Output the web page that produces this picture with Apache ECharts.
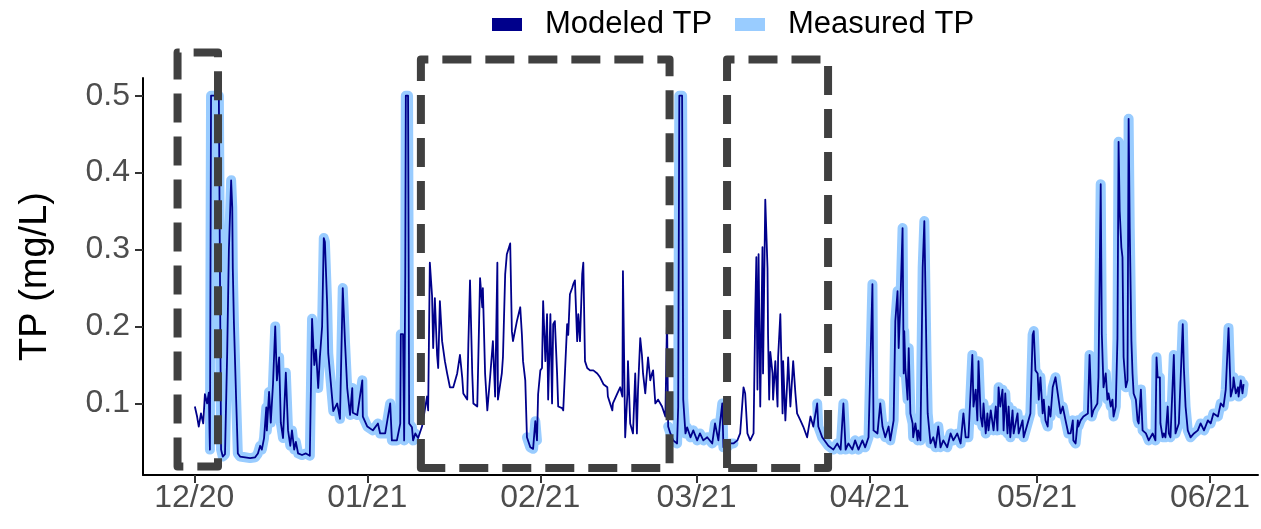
<!DOCTYPE html>
<html>
<head>
<meta charset="utf-8">
<script src="https://cdn.jsdelivr.net/npm/echarts@6/dist/echarts.min.js"></script>
<style>
  html, body { margin: 0; padding: 0; background: #fff; }
  #chart { width: 1261px; height: 529px; }
</style>
</head>
<body>
<div id="chart"></div>
<script>
// x positions are days counted from 1 Dec 2020
const tickDays = [0, 31, 62, 90, 121, 151, 182];
const tickLabels = ['12/20', '01/21', '02/21', '03/21', '04/21', '05/21', '06/21'];
const yTicks = [0.1, 0.2, 0.3, 0.4, 0.5];

// Modeled total phosphorus, [day, mg/L]
const modeledDec = [[0.1,0.096],[0.5,0.083],[0.8,0.07],[1.2,0.087],[1.6,0.074],[1.9,0.112],[2.3,0.1],[2.6,0.114],[2.8,0.04],[3.0,0.5],[4.4,0.5],[4.8,0.04],[5.1,0.031],[5.5,0.034],[5.9,0.168],[6.2,0.3],[6.6,0.39],[6.8,0.355],[6.9,0.275],[7.1,0.205],[7.5,0.105],[7.8,0.035],[8.2,0.031],[9.1,0.03],[10.0,0.029],[10.9,0.03],[11.4,0.035],[11.8,0.045],[12.1,0.04],[12.5,0.055],[12.9,0.095],[13.0,0.065],[13.4,0.115],[13.7,0.075],[14.1,0.125],[14.5,0.2],[14.8,0.13],[15.2,0.16],[15.5,0.075],[15.9,0.055],[16.4,0.14],[16.8,0.065],[17.2,0.045],[17.5,0.065],[17.9,0.04],[18.2,0.05],[18.6,0.035],[19.3,0.033],[20.0,0.035],[20.7,0.032],[21.1,0.21],[21.5,0.15],[21.8,0.17],[22.2,0.12],[22.5,0.16],[22.9,0.2],[23.2,0.315],[23.4,0.31],[23.8,0.23],[24.0,0.165],[24.3,0.14],[24.9,0.09],[25.6,0.1],[26.1,0.08],[26.6,0.25],[27.0,0.18],[27.4,0.12],[27.9,0.085],[28.3,0.12],[28.4,0.088],[29.2,0.085],[30.1,0.13],[30.2,0.083],[31.0,0.07]];
const modeledJan = [[32.0,0.065],[32.9,0.074],[33.3,0.061],[34.2,0.061],[35.1,0.1],[35.4,0.052],[36.3,0.052],[36.9,0.074],[37.0,0.19],[37.4,0.19],[37.6,0.052],[37.8,0.27],[37.9,0.5],[38.3,0.5],[38.5,0.074],[39.0,0.069],[39.2,0.052],[39.6,0.061],[40.1,0.055],[40.8,0.07],[41.7,0.109],[41.9,0.091],[42.2,0.283],[42.6,0.24],[42.8,0.172],[43.1,0.237],[43.5,0.163],[43.7,0.146],[44.0,0.233],[44.4,0.181],[44.6,0.181],[44.9,0.155],[45.3,0.139],[45.8,0.121],[46.4,0.121],[47.1,0.139],[47.6,0.163],[48.0,0.134],[48.2,0.113],[48.9,0.105],[49.1,0.176],[49.4,0.26],[49.8,0.139],[50.0,0.1],[50.7,0.096],[51.2,0.263],[51.6,0.225],[51.7,0.25],[52.1,0.139],[52.5,0.091],[53.0,0.134],[53.5,0.181],[53.9,0.109],[54.3,0.283],[54.4,0.105],[55.1,0.139],[55.3,0.16],[55.7,0.268],[56.0,0.294],[56.6,0.308],[56.9,0.194],[57.1,0.181],[57.8,0.207],[58.4,0.225],[58.7,0.189],[58.9,0.155],[59.3,0.13],[59.6,0.056],[60.2,0.043],[60.7,0.041],[61.1,0.077],[61.4,0.052],[61.6,0.112],[62.0,0.143]];
const modeledFeb = [[62.3,0.146],[62.5,0.233],[62.9,0.155],[63.2,0.216],[63.4,0.105],[63.8,0.216],[64.1,0.1],[64.3,0.203],[64.6,0.207],[65.0,0.139],[65.2,0.096],[65.9,0.094],[66.1,0.091],[66.8,0.203],[67.0,0.189],[67.3,0.242],[67.7,0.25],[67.9,0.255],[68.2,0.26],[68.6,0.181],[68.8,0.216],[69.1,0.181],[69.5,0.268],[69.7,0.283],[70.0,0.155],[70.4,0.146],[70.9,0.143],[71.5,0.143],[72.2,0.139],[72.7,0.134],[73.3,0.125],[74.0,0.121],[74.1,0.109],[74.9,0.091],[75.0,0.1],[75.8,0.113],[76.3,0.121],[76.7,0.109],[76.8,0.272],[77.2,0.056],[77.6,0.113],[77.7,0.155],[78.1,0.074],[78.6,0.061],[79.0,0.139],[79.3,0.061],[79.5,0.118],[79.9,0.185],[80.2,0.163],[80.4,0.139],[80.8,0.113],[81.3,0.16],[81.7,0.13],[82.0,0.139],[82.2,0.143],[82.6,0.1],[83.1,0.105],[83.8,0.096],[84.4,0.083],[84.7,0.212],[84.9,0.07],[85.3,0.061],[85.8,0.052],[86.5,0.048],[86.7,0.096],[86.9,0.5],[87.4,0.5],[87.6,0.105],[88.0,0.061],[88.3,0.069],[88.9,0.056],[89.4,0.065],[90.1,0.052]];
const modeledMar = [[90.6,0.061],[91.2,0.052],[91.9,0.056],[92.8,0.048],[93.3,0.074],[93.9,0.052],[94.2,0.075],[94.6,0.1],[94.8,0.043],[95.5,0.043],[96.0,0.048],[96.6,0.048],[97.3,0.052],[97.8,0.061],[98.4,0.121],[98.7,0.113],[99.1,0.061],[99.6,0.052],[100.2,0.061],[100.5,0.216],[100.7,0.29],[100.9,0.118],[101.1,0.294],[101.4,0.096],[101.8,0.303],[101.9,0.139],[102.3,0.365],[102.7,0.276],[102.8,0.189],[103.0,0.105],[103.2,0.167],[103.6,0.139],[103.7,0.105],[104.1,0.155],[104.5,0.096],[104.6,0.16],[105.0,0.216],[105.4,0.087],[105.5,0.155],[105.9,0.078],[106.3,0.139],[106.4,0.16],[106.8,0.096],[107.3,0.155],[107.7,0.113],[108.0,0.087],[108.6,0.078],[109.1,0.07],[109.8,0.056],[110.4,0.083],[110.9,0.07],[111.6,0.1],[111.8,0.07],[112.5,0.056],[113.6,0.045],[114.5,0.04],[115.2,0.048],[115.8,0.04],[116.3,0.1],[116.7,0.04],[117.2,0.048],[117.9,0.04],[118.4,0.052],[119.0,0.04],[119.7,0.052],[120.2,0.043],[120.8,0.056]];
const modeledApr = [[121.5,0.255],[121.7,0.065],[122.4,0.061],[122.9,0.1],[123.3,0.07],[123.8,0.056],[124.4,0.07],[124.7,0.052],[125.3,0.078],[125.6,0.207],[126.0,0.246],[126.2,0.172],[126.5,0.229],[126.9,0.328],[127.1,0.139],[127.2,0.194],[127.4,0.146],[127.8,0.105],[128.0,0.172],[128.3,0.087],[128.7,0.074],[128.8,0.056],[129.2,0.074],[129.6,0.052],[129.7,0.065],[130.1,0.052],[130.5,0.276],[130.8,0.337],[131.2,0.155],[131.4,0.087],[131.9,0.048],[132.4,0.056],[132.8,0.043],[133.3,0.07],[133.7,0.043],[134.2,0.052],[134.9,0.043],[135.5,0.061],[136.0,0.052],[136.7,0.061],[137.3,0.048],[137.8,0.087],[138.2,0.056],[138.7,0.056],[139.4,0.163],[139.6,0.096],[140.0,0.118],[140.3,0.078],[140.5,0.155],[140.9,0.083],[141.2,0.07],[141.4,0.1],[141.8,0.061],[142.1,0.087],[142.3,0.065],[142.7,0.091],[143.2,0.065],[143.6,0.096],[143.9,0.065],[144.1,0.121],[144.4,0.096],[144.8,0.118],[145.0,0.065],[145.3,0.113],[145.7,0.061],[145.9,0.096],[146.2,0.056],[146.6,0.091],[146.8,0.061],[147.5,0.087],[147.7,0.061],[148.4,0.078],[148.6,0.056],[149.3,0.074],[149.8,0.087],[150.2,0.189],[150.4,0.194],[150.7,0.143]];
const modeledMay = [[151.1,0.139],[151.3,0.105],[151.6,0.134],[152.0,0.087],[152.2,0.105],[152.5,0.078],[152.9,0.07],[153.1,0.096],[153.4,0.083],[153.8,0.121],[154.3,0.134],[154.7,0.113],[155.2,0.087],[155.6,0.096],[156.1,0.078],[156.6,0.061],[157.0,0.061],[157.4,0.078],[157.5,0.052],[157.9,0.048],[158.3,0.078],[158.4,0.07],[158.8,0.078],[159.3,0.083],[160.1,0.087],[160.4,0.163],[160.8,0.083],[161.1,0.091],[161.8,0.1],[162.0,0.134],[162.4,0.385],[162.6,0.19],[162.9,0.121],[163.3,0.139],[163.6,0.105],[163.8,0.113],[164.2,0.096],[164.5,0.105],[164.7,0.083],[165.1,0.096],[165.4,0.185],[165.6,0.44],[165.8,0.35],[166.1,0.303],[166.3,0.29],[166.5,0.16],[166.9,0.121],[167.2,0.13],[167.4,0.47],[167.6,0.328],[167.9,0.181],[168.1,0.139],[168.3,0.113],[168.7,0.105],[169.0,0.078],[169.2,0.074],[169.6,0.118],[169.9,0.065],[170.5,0.061],[171.0,0.052],[171.7,0.061],[172.2,0.052],[172.4,0.16],[172.6,0.134],[173.0,0.134],[173.1,0.074],[173.5,0.056],[173.7,0.061],[174.0,0.056],[174.4,0.096],[174.6,0.061],[174.9,0.056],[175.5,0.163],[175.7,0.096],[175.8,0.061],[176.4,0.074],[177.1,0.203],[177.3,0.146],[177.6,0.096],[178.0,0.065],[178.5,0.056],[179.1,0.061],[179.8,0.065],[180.3,0.074],[180.9,0.065],[181.6,0.078]];
const modeledJun = [[182.1,0.074],[182.6,0.087],[183.4,0.083],[183.9,0.1],[184.4,0.096],[184.8,0.118],[185.3,0.198],[185.7,0.109],[186.1,0.121],[186.2,0.134],[186.6,0.113],[187.0,0.121],[187.1,0.109],[187.5,0.13],[187.8,0.113],[188.0,0.125]];

// Periods (days) with measured TP; outside them the sensor record is missing
const measuredPeriods = [[2.7, 39.7], [59.5, 61.5], [84.8, 96.9], [111.5, 188.1]];

// Highlighted windows: [start day, end day, low mg/L, high mg/L]
const boxWindows = [[-3.0, 4.25, 0.018, 0.556], [40.6, 85.15, 0.016, 0.547], [95.45, 113.55, 0.016, 0.547]];

const modeled = [].concat(modeledDec, modeledJan, modeledFeb, modeledMar, modeledApr, modeledMay, modeledJun);

// measured series: same time stamps, broken where no measurements exist
const measured = [];
modeled.forEach(function (p) {
  const inside = measuredPeriods.some(function (r) { return p[0] >= r[0] && p[0] <= r[1]; });
  if (inside) {
    measured.push(p);
  } else if (measured.length && measured[measured.length - 1][1] !== '-') {
    measured.push([p[0], '-']);
  }
});

const FONT = '"Liberation Sans", Arial, sans-serif';
const NAVY = '#00008B';
const SKY = '#99CCFF';

// legend entry with an 18px spacer between key and label
function legendEntry(name, left) {
  return {
    data: [name],
    left: left,
    top: 4,
    icon: 'rect',
    itemWidth: 30,
    itemHeight: 13,
    selectedMode: false,
    formatter: function (n) { return '{sp|}' + n; },
    textStyle: {
      fontSize: 31, color: '#000', fontFamily: FONT,
      rich: { sp: { width: 18 } }
    }
  };
}

const chart = echarts.init(document.getElementById('chart'), null, { renderer: 'canvas' });

chart.setOption({
  animation: false,
  backgroundColor: '#ffffff',
  textStyle: { fontFamily: FONT },
  grid: { left: 143, right: 3, top: 78, bottom: 54, containLabel: false },
  legend: [legendEntry('Modeled TP', 487), legendEntry('Measured TP', 730)],
  xAxis: {
    type: 'value',
    min: -9.19,
    max: 190.58,
    axisLine: { show: true, onZero: false, lineStyle: { color: '#000', width: 2 } },
    axisTick: { show: true, customValues: tickDays, length: 8, lineStyle: { color: '#333', width: 2 } },
    axisLabel: {
      customValues: tickDays,
      formatter: function (v) { const i = tickDays.indexOf(v); return i >= 0 ? tickLabels[i] : ''; },
      fontSize: 32, color: '#4d4d4d', margin: 7, fontFamily: FONT
    },
    splitLine: { show: false }
  },
  yAxis: {
    type: 'value',
    min: 0.007,
    max: 0.523,
    name: 'TP (mg/L)',
    nameLocation: 'middle',
    nameGap: 88,
    nameTextStyle: { fontSize: 38, color: '#000', fontFamily: FONT },
    axisLine: { show: true, onZero: false, lineStyle: { color: '#000', width: 2 } },
    axisTick: { show: true, customValues: yTicks, length: 8, lineStyle: { color: '#333', width: 2 } },
    axisLabel: {
      customValues: yTicks,
      formatter: function (v) { return v.toFixed(1); },
      fontSize: 32, color: '#4d4d4d', margin: 13, fontFamily: FONT
    },
    splitLine: { show: false }
  },
  series: [
    {
      name: 'Modeled TP',
      type: 'line',
      data: modeled,
      showSymbol: false,
      sampling: 'none',
      z: 3,
      itemStyle: { color: NAVY },
      lineStyle: { color: NAVY, width: 1.8, join: 'round' }
    },
    {
      name: 'Measured TP',
      type: 'line',
      data: measured,
      showSymbol: false,
      connectNulls: false,
      sampling: 'none',
      z: 2,
      itemStyle: { color: SKY },
      lineStyle: { color: SKY, width: 10, cap: 'round', join: 'round' }
    },
    {
      name: 'windows',
      type: 'custom',
      z: 5,
      clip: false,
      silent: true,
      encode: { x: [0, 1], y: [2, 3] },
      data: boxWindows,
      renderItem: function (params, api) {
        const tl = api.coord([api.value(0), api.value(3)]);
        const br = api.coord([api.value(1), api.value(2)]);
        return {
          type: 'polygon',
          shape: { points: [[tl[0], br[1]], [tl[0], tl[1]], [br[0], tl[1]], [br[0], br[1]]] },
          style: { fill: null, stroke: '#404040', lineWidth: 8, lineDash: [29, 14], lineJoin: 'round', lineCap: 'butt' }
        };
      }
    }
  ]
});
</script>
</body>
</html>
